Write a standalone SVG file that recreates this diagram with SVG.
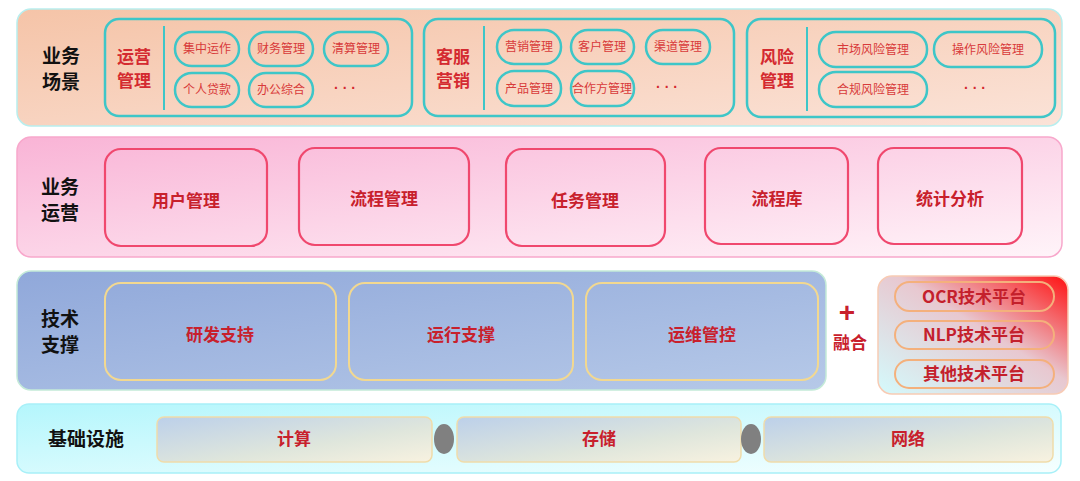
<svg xmlns="http://www.w3.org/2000/svg" width="1080" height="481" viewBox="0 0 1080 481">
<defs>
<linearGradient id="g1" x1="0" y1="0" x2="1" y2="1"><stop offset="0" stop-color="#f5c4a8"/><stop offset="1" stop-color="#fbe3d8"/></linearGradient>
<linearGradient id="g2" x1="0" y1="0" x2="1" y2="1"><stop offset="0" stop-color="#f9b4d6"/><stop offset="1" stop-color="#fff4f9"/></linearGradient>
<linearGradient id="g3" x1="0" y1="0" x2="1" y2="1"><stop offset="0" stop-color="#90a8da"/><stop offset="1" stop-color="#b6c9e8"/></linearGradient>
<linearGradient id="g4" x1="0" y1="0" x2="1" y2="1"><stop offset="0" stop-color="#b4f6fc"/><stop offset="1" stop-color="#f6ffff"/></linearGradient>
<linearGradient id="g5" x1="0" y1="1" x2="1" y2="0"><stop offset="0" stop-color="#d4fafc"/><stop offset="0.55" stop-color="#e8c8d0"/><stop offset="1" stop-color="#ff1010"/></linearGradient>
<linearGradient id="g6" x1="0" y1="0" x2="1" y2="1"><stop offset="0" stop-color="#bcd0ea"/><stop offset="0.6" stop-color="#dfe6dc"/><stop offset="1" stop-color="#f8f2e0"/></linearGradient>
<style>
.lbl{font-family:"Noto Sans CJK SC","Noto Sans",sans-serif;font-weight:bold;font-size:19px;fill:#111;text-anchor:middle}
.grp{fill:none;stroke:#3ec6c8;stroke-width:2.5}
.glbl{font-family:"Noto Sans CJK SC",sans-serif;font-weight:bold;font-size:17px;fill:#d42a30;text-anchor:middle}
.pill{fill:none;stroke:#3ec6c8;stroke-width:2.5}
.pt{font-family:"Noto Sans CJK SC",sans-serif;font-size:12px;fill:#d83a3a;text-anchor:middle}
.dots{font-family:"Liberation Sans",sans-serif;font-size:14px;fill:#d42a30;text-anchor:middle;font-weight:bold}
.pbox{fill:none;stroke:#f0486e;stroke-width:2.2}
.bt{font-family:"Noto Sans CJK SC",sans-serif;font-weight:bold;font-size:17px;fill:#c8202c;text-anchor:middle}
.ybox{fill:none;stroke:#f2d890;stroke-width:2}
.opill{fill:none;stroke:#f4b07c;stroke-width:2}
.ot{font-family:"Noto Sans CJK SC",sans-serif;font-weight:bold;font-size:17px;fill:#c4202c;text-anchor:middle}
.bar{fill:url(#g6);stroke:#f0dcaa;stroke-width:1.5}
</style>
</defs>

<g id="layer-scene">
<rect x="17" y="9" width="1045" height="117" rx="14" fill="url(#g1)" stroke="#b8eeee" stroke-width="1.5"/>
<text class="lbl" x="61" y="63">业务</text>
<text class="lbl" x="61" y="89">场景</text>
</g>
<g id="grp-ops">
<rect class="grp" x="105" y="19" width="307" height="97" rx="14"/>
<text class="glbl" x="134" y="63">运营</text>
<text class="glbl" x="134" y="87">管理</text>
<line x1="164" y1="26" x2="164" y2="110" stroke="#3ec6c8" stroke-width="2"/>
<rect class="pill" x="175" y="32" width="64" height="34" rx="17"/><text class="pt" x="207" y="53">集中运作</text>
<rect class="pill" x="249" y="32" width="64" height="34" rx="17"/><text class="pt" x="281" y="53">财务管理</text>
<rect class="pill" x="324" y="32" width="64" height="34" rx="17"/><text class="pt" x="356" y="53">清算管理</text>
<rect class="pill" x="175" y="73" width="64" height="34" rx="17"/><text class="pt" x="207" y="94">个人贷款</text>
<rect class="pill" x="249" y="73" width="64" height="34" rx="17"/><text class="pt" x="281" y="94">办公综合</text>
<text class="dots" x="345" y="93">· · ·</text>
</g>
<g id="grp-mkt">
<rect class="grp" x="424" y="19" width="310" height="97" rx="14"/>
<text class="glbl" x="453" y="63">客服</text>
<text class="glbl" x="453" y="87">营销</text>
<line x1="484" y1="26" x2="484" y2="110" stroke="#3ec6c8" stroke-width="2"/>
<rect class="pill" x="497" y="30" width="64" height="34" rx="17"/><text class="pt" x="529" y="51">营销管理</text>
<rect class="pill" x="571" y="30" width="63" height="34" rx="17"/><text class="pt" x="602" y="51">客户管理</text>
<rect class="pill" x="646" y="30" width="64" height="34" rx="17"/><text class="pt" x="678" y="51">渠道管理</text>
<rect class="pill" x="497" y="71" width="64" height="35" rx="17"/><text class="pt" x="529" y="93">产品管理</text>
<rect class="pill" x="571" y="71" width="63" height="35" rx="17"/><text class="pt" x="602" y="93">合作方管理</text>
<text class="dots" x="667" y="92">· · ·</text>
</g>
<g id="grp-risk">
<rect class="grp" x="747" y="19" width="308" height="98" rx="14"/>
<text class="glbl" x="777" y="63">风险</text>
<text class="glbl" x="777" y="87">管理</text>
<line x1="807" y1="27" x2="807" y2="111" stroke="#3ec6c8" stroke-width="2"/>
<rect class="pill" x="819" y="32" width="108" height="35" rx="17"/><text class="pt" x="873" y="54">市场风险管理</text>
<rect class="pill" x="934" y="32" width="108" height="35" rx="17"/><text class="pt" x="988" y="54">操作风险管理</text>
<rect class="pill" x="819" y="72" width="108" height="35" rx="17"/><text class="pt" x="873" y="94">合规风险管理</text>
<text class="dots" x="975" y="93">· · ·</text>
</g>

<g id="layer-biz">
<rect x="17" y="137" width="1045" height="120" rx="14" fill="url(#g2)" stroke="#f8a8cc" stroke-width="1.5"/>
<text class="lbl" x="60" y="194">业务</text>
<text class="lbl" x="60" y="220">运营</text>
</g>
<g id="n-user"><rect class="pbox" x="105" y="149" width="162" height="97" rx="16"/><text class="bt" x="186" y="207">用户管理</text></g>
<g id="n-flow"><rect class="pbox" x="299" y="148" width="170" height="97" rx="16"/><text class="bt" x="384" y="205">流程管理</text></g>
<g id="n-task"><rect class="pbox" x="506" y="149" width="159" height="97" rx="16"/><text class="bt" x="585" y="207">任务管理</text></g>
<g id="n-lib"><rect class="pbox" x="705" y="148" width="143" height="96" rx="16"/><text class="bt" x="777" y="205">流程库</text></g>
<g id="n-stat"><rect class="pbox" x="878" y="148" width="144" height="96" rx="16"/><text class="bt" x="950" y="205">统计分析</text></g>

<g id="layer-tech">
<rect x="17" y="271" width="809" height="119" rx="14" fill="url(#g3)" stroke="#c4ead8" stroke-width="1.5"/>
<text class="lbl" x="60" y="326">技术</text>
<text class="lbl" x="60" y="352">支撑</text>
</g>
<g id="n-dev"><rect class="ybox" x="105" y="283" width="231" height="97" rx="16"/><text class="bt" x="220" y="341" fill="#d42a30">研发支持</text></g>
<g id="n-run"><rect class="ybox" x="349" y="283" width="224" height="97" rx="16"/><text class="bt" x="461" y="341">运行支撑</text></g>
<g id="n-ctl"><rect class="ybox" x="586" y="283" width="232" height="97" rx="16"/><text class="bt" x="702" y="341">运维管控</text></g>

<g id="fuse">
<text x="847" y="322" font-family="Liberation Sans,sans-serif" font-weight="bold" font-size="28" fill="#c8202c" text-anchor="middle">+</text>
<text class="bt" x="850" y="349" font-size="16">融合</text>
</g>
<g id="n-platforms">
<rect x="878" y="276" width="190" height="118" rx="14" fill="url(#g5)" stroke="#f8cbb4" stroke-width="1.5"/>
<rect class="opill" x="895" y="282" width="159" height="29" rx="14.5"/><text class="ot" x="974" y="303">OCR技术平台</text>
<rect class="opill" x="895" y="321" width="159" height="28" rx="14"/><text class="ot" x="974" y="341">NLP技术平台</text>
<rect class="opill" x="895" y="360" width="159" height="28" rx="14"/><text class="ot" x="974" y="380">其他技术平台</text>
</g>

<g id="layer-infra">
<rect x="17" y="404" width="1044" height="69" rx="12" fill="url(#g4)" stroke="#a8f0f8" stroke-width="1.5"/>
<text class="lbl" x="86" y="446">基础设施</text>
</g>
<g id="n-compute"><rect class="bar" x="157" y="417" width="275" height="45" rx="7"/><text class="bt" x="294" y="445" font-size="16" fill="#d42a30">计算</text></g>
<g id="n-storage"><rect class="bar" x="457" y="417" width="284" height="45" rx="7"/><text class="bt" x="599" y="445" font-size="16" fill="#d42a30">存储</text></g>
<g id="n-net"><rect class="bar" x="764" y="417" width="289" height="45" rx="7"/><text class="bt" x="908" y="445" font-size="16" fill="#d42a30">网络</text></g>
<g id="connectors">
<ellipse cx="444" cy="439" rx="10" ry="15" fill="#808080"/>
<ellipse cx="751" cy="439" rx="10" ry="15" fill="#808080"/>
</g>
</svg>
